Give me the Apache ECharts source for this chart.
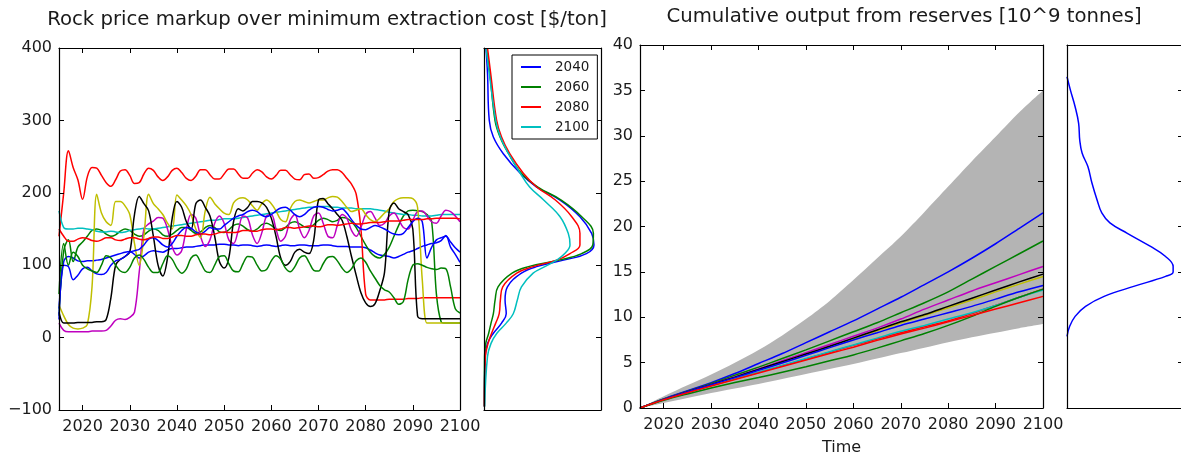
<!DOCTYPE html>
<html>
<head>
<meta charset="utf-8">
<script src="https://cdn.jsdelivr.net/npm/echarts@6/dist/echarts.min.js"></script>
<style>
  html, body { margin: 0; padding: 0; background: #ffffff; }
  #chart { width: 1181px; height: 457px; }
</style>
</head>
<body>
<div id="chart"></div>
<script>
// ---- Price markup over minimum extraction cost, one value per year, 2015-2100 ----
const years = [2015,2016,2017,2018,2019,2020,2021,2022,2023,2024,2025,2026,2027,2028,2029,2030,2031,2032,2033,2034,
  2035,2036,2037,2038,2039,2040,2041,2042,2043,2044,2045,2046,2047,2048,2049,2050,2051,2052,2053,2054,
  2055,2056,2057,2058,2059,2060,2061,2062,2063,2064,2065,2066,2067,2068,2069,2070,2071,2072,2073,2074,
  2075,2076,2077,2078,2079,2080,2081,2082,2083,2084,2085,2086,2087,2088,2089,2090,2091,2092,2093,2094,
  2095,2096,2097,2098,2099,2100];

const markupBlueA = [40,105,112,110,106,105,106,106,107,108, 110,112,114,116,118,119,115,110,113,118,
  120,119,118,121,123,123,124,125,125,126, 127,128,128,128,129,129,128,128,127,128,
  128,127,126,127,128,127,126,127,128,127, 127,128,128,127,127,127,128,128,127,126,
  126,126,125,125,125,124,121,117,114,113, 112,110,112,115,118,120,123,126,128,130,
  131,134,141,125,115,104];
const markupGreenA = [30,120,135,105,125,132,140,148,150,148, 143,140,142,147,150,148,143,140,142,147,
  150,148,142,140,143,148,152,152,148,144, 146,152,155,152,146,145,149,155,157,154,
  149,147,150,156,158,155,150,148,152,158, 160,157,153,152,156,162,165,163,160,162,
  166,165,160,152,140,128,118,112,110,115, 125,140,155,168,175,176,175,174,170,160,
  60,22,20,20,20,20];
const markupRedA = [140,200,258,235,218,191,222,235,234,224, 214,209,218,230,232,224,213,214,226,234,
  231,222,217,222,231,234,228,220,217,223, 232,232,225,219,219,226,233,233,226,220,
  220,227,232,229,222,219,224,231,231,225, 219,218,225,226,220,221,225,230,232,232,
  228,220,212,198,150,60,52,52,52,52, 53,53,53,53,54,54,54,55,55,55,
  55,55,55,55,55,55];
const markupCyan = [175,152,150,150,151,151,150,149,147,146, 146,147,146,145,146,148,149,150,151,150,
  150,151,152,153,154,155,156,157,158,159, 160,161,162,162,163,164,164,164,165,166,
  167,168,169,170,171,172,173,174,175,176, 177,178,179,180,180,181,181,181,180,180,
  179,179,179,178,178,178,178,177,176,175, 173,172,171,170,170,169,169,168,168,168,
  169,170,170,170,170,170];
const markupMagenta = [20,10,8,8,8,8,8,9,9,9, 10,16,24,26,25,28,35,90,150,157,
  161,166,165,150,125,114,120,150,170,165, 140,126,135,158,168,158,135,130,148,168,
  165,142,130,145,168,170,150,133,140,162, 170,150,138,148,168,172,158,140,138,155,
  170,165,148,140,152,170,174,165,155,158, 168,172,163,152,150,162,174,175,168,160,
  158,168,176,174,168,160];
const markupYellow = [45,30,18,13,12,13,18,70,198,172, 160,155,188,188,182,170,130,100,140,198,
  185,178,170,158,150,197,190,182,170,150, 138,175,194,185,178,172,170,186,192,193,
  190,182,176,185,190,185,175,163,160,178, 188,190,188,186,188,190,190,193,195,194,
  188,180,174,176,178,170,163,160,165,172, 178,188,192,193,193,192,180,80,20,20,
  20,20,20,20,20,20];
const markupBlack = [35,20,20,20,21,21,21,21,22,22, 25,55,100,108,112,118,170,195,185,175,
  140,100,85,110,165,188,180,160,150,185, 190,180,168,140,105,96,110,160,178,175,
  180,188,188,186,180,165,140,110,100,105, 118,122,118,116,135,190,192,185,178,170,
  162,140,112,86,62,48,43,47,65,90, 175,186,178,174,170,150,30,26,26,26,
  26,26,26,26,26,26];
const markupBlueB = [25,100,98,80,86,95,97,92,88,87, 90,100,106,108,112,118,120,122,128,136,
  138,134,128,125,130,140,148,152,151,146, 143,147,152,150,150,155,160,165,168,170,
  174,176,174,169,167,170,175,179,180,176, 170,167,170,176,180,181,180,177,175,176,
  178,172,163,155,150,149,152,155,153,150, 146,143,142,144,152,160,165,160,110,125,
  135,138,140,132,124,118];
const markupGreenB = [60,130,100,118,112,100,95,92,90,100, 113,110,100,92,90,97,110,114,108,97,
  90,90,102,113,108,96,89,95,110,114, 104,92,90,100,112,113,102,92,91,102,
  112,111,100,92,94,106,113,108,96,91, 98,110,113,104,93,92,102,111,112,106,
  96,90,95,106,110,104,92,82,72,66, 63,55,46,50,80,100,102,100,97,95,
  94,96,95,70,40,34];
const markupRedB = [150,140,133,133,136,138,137,134,133,135, 138,138,135,134,136,138,138,136,135,137,
  139,139,137,137,139,141,141,140,140,142, 143,143,142,143,145,146,145,145,146,148,
  148,147,147,149,150,150,149,150,152,152, 151,152,153,154,154,153,154,156,156,155,
  156,157,158,157,157,158,159,159,159,160, 161,161,161,162,163,163,163,163,164,164,
  165,165,165,165,165,164];

// ---- Markup density by year (price level vs. relative density) ----
const markupLevels = [400,365,300,277,254,227,208,190,167,144,128,116,107,98,89,70,52,33,20,6,-8,-26,-95];
const density2040 = [0.017,0.03,0.045,0.08,0.165,0.31,0.45,0.65,0.82,0.92,0.94,0.875,0.68,0.45,0.32,0.2,0.18,0.19,0.15,0.08,0.03,0.01,0.003];
const density2060 = [0.02,0.05,0.094,0.137,0.21,0.32,0.46,0.66,0.835,0.935,0.93,0.835,0.64,0.38,0.24,0.12,0.095,0.08,0.06,0.04,0.015,0.005,0.003];
const density2080 = [0.03,0.057,0.108,0.15,0.22,0.336,0.45,0.61,0.75,0.82,0.82,0.735,0.62,0.42,0.28,0.16,0.14,0.13,0.1,0.065,0.035,0.012,0.003];
const density2100 = [0.017,0.045,0.1,0.14,0.21,0.31,0.39,0.51,0.65,0.72,0.735,0.69,0.62,0.52,0.42,0.32,0.285,0.25,0.19,0.11,0.06,0.03,0.005];
const densityYears = ['2040', '2060', '2080', '2100'];

// ---- Cumulative output from reserves [10^9 t], every five years ----
const years5 = [2015,2020,2025,2030,2035,2040,2045,2050,2055,2060,2065,2070,2075,2080,2085,2090,2095,2100];
const cumBlueA   = [0,1.0,1.9,2.8,3.8,4.9,6.0,7.2,8.4,9.6,10.9,12.2,13.6,15.0,16.5,18.1,19.8,21.5];
const cumGreenA  = [0,1.0,1.85,2.7,3.6,4.5,5.45,6.4,7.4,8.4,9.4,10.5,11.6,12.8,14.2,15.6,17.0,18.4];
const cumRedA    = [0,0.92,1.72,2.47,3.2,3.92,4.65,5.4,6.15,6.9,7.6,8.3,8.95,9.6,10.4,11.3,12.2,13.1];
const cumCyan    = [0,0.92,1.72,2.48,3.22,3.95,4.7,5.45,6.2,6.95,7.7,8.45,9.1,9.8,10.5,11.3,12.2,13.0];
const cumMagenta = [0,0.95,1.8,2.6,3.45,4.3,5.2,6.1,7.0,7.9,8.8,9.8,10.9,11.9,12.9,13.8,14.7,15.6];
const cumYellow  = [0,0.95,1.78,2.58,3.38,4.2,5.05,5.9,6.75,7.6,8.5,9.35,10.2,11.05,11.9,12.8,13.65,14.5];
const cumBlack   = [0,0.95,1.8,2.6,3.4,4.25,5.1,5.95,6.8,7.7,8.6,9.5,10.3,11.2,12.1,13.0,13.9,14.75];
const cumBlueB   = [0,0.95,1.78,2.57,3.35,4.15,4.95,5.8,6.65,7.5,8.3,9.1,9.8,10.5,11.2,12.0,12.8,13.5];
const cumGreenB  = [0,0.85,1.55,2.2,2.8,3.35,3.95,4.55,5.2,5.85,6.6,7.4,8.2,9.1,10.1,11.2,12.2,13.1];
const cumRedB    = [0,0.9,1.68,2.42,3.14,3.86,4.58,5.3,6.0,6.7,7.45,8.15,8.8,9.5,10.2,10.9,11.6,12.3];
const rangeUpper = [0,1.3,2.5,3.7,5.0,6.4,8.0,9.8,11.8,14.1,16.5,18.9,21.6,24.4,27.2,29.9,32.6,35.0];
const rangeLower = [0,0.55,1.1,1.65,2.15,2.65,3.2,3.75,4.3,4.85,5.45,6.05,6.65,7.25,7.8,8.3,8.8,9.25];

// ---- Density of cumulative output in 2100 ----
const outputLevels = [36.5,35.0,33.2,31.4,29.5,28.1,26.6,24.8,22.9,21.5,20.4,19.25,17.8,16.7,15.6,15.0,14.5,13.4,12.3,11.2,10.1,9.0,7.9];
const outputDensity = [0,0.03,0.07,0.1,0.11,0.13,0.18,0.215,0.26,0.3,0.37,0.52,0.72,0.85,0.915,0.915,0.85,0.575,0.32,0.16,0.07,0.023,0];

// ---- styling ----
const FONT = 'DejaVu Sans';
const TEXT = '#1a1a1a';
const C = { b: '#0000ff', g: '#008000', r: '#ff0000', c: '#00bfbf', m: '#bf00bf', y: '#bfbf00', k: '#000000' };
const BAND = '#b4b4b4';

const zip = (xs, ys) => xs.map((x, i) => [x, ys[i]]);

const runColors = [C.b, C.g, C.r, C.c, C.m, C.y, C.k, C.b, C.g, C.r];
const markupRuns = [markupBlueA, markupGreenA, markupRedA, markupCyan, markupMagenta,
  markupYellow, markupBlack, markupBlueB, markupGreenB, markupRedB];
const cumRuns = [cumBlueA, cumGreenA, cumRedA, cumCyan, cumMagenta,
  cumYellow, cumBlack, cumBlueB, cumGreenB, cumRedB];

const tickStyle = { show: true, inside: true, length: 5, lineStyle: { color: '#000', width: 1 } };
const lineAxis = { show: true, onZero: false, lineStyle: { color: '#000', width: 1.2 } };
const labelStyle = { fontFamily: FONT, fontSize: 16, color: TEXT };
const minus = v => String(v).replace('-', '\u2212');

// axes sit above the series so the frame and ticks stay visible over the shaded range
function yearAxis(gridIndex, position, withLabels, extra) {
  return Object.assign({
    type: 'value', gridIndex, position, min: 2015, max: 2100, z: 5,
    splitNumber: 9, minInterval: 10, maxInterval: 10,
    axisLine: lineAxis, axisTick: tickStyle, splitLine: { show: false },
    axisLabel: withLabels ? Object.assign({
      margin: 9, showMinLabel: false,
      formatter: v => (v % 10 === 0 ? String(v) : '')
    }, labelStyle) : { show: false }
  }, extra || {});
}
function valueAxis(gridIndex, position, min, max, interval, withLabels, withTicks) {
  return {
    type: 'value', gridIndex, position, min, max, interval, z: 5,
    axisLine: lineAxis, axisTick: withTicks ? tickStyle : { show: false },
    splitLine: { show: false },
    axisLabel: withLabels ? Object.assign({ margin: 7, formatter: minus }, labelStyle) : { show: false }
  };
}
function densityAxis(gridIndex, position) {
  return {
    type: 'value', gridIndex, position, min: 0, max: 1, z: 5,
    axisLine: lineAxis, axisTick: { show: false }, axisLabel: { show: false }, splitLine: { show: false }
  };
}

const series = [];
markupRuns.forEach((vals, i) => {
  series.push({
    name: 'markup run ' + (i + 1), type: 'line', xAxisIndex: 0, yAxisIndex: 0,
    data: zip(years, vals), symbol: 'none', smooth: 0.35,
    lineStyle: { color: runColors[i], width: 1.5 }, itemStyle: { color: runColors[i] }
  });
});
[density2040, density2060, density2080, density2100].forEach((d, i) => {
  const col = [C.b, C.g, C.r, C.c][i];
  series.push({
    name: densityYears[i], type: 'line', xAxisIndex: 2, yAxisIndex: 2,
    data: zip(d, markupLevels), symbol: 'none', smooth: 0.4,
    lineStyle: { color: col, width: 1.5 }, itemStyle: { color: col }
  });
});
// shaded range: grey up to the upper bound, then white back down to the lower bound
series.push({
  name: 'range upper', type: 'line', xAxisIndex: 4, yAxisIndex: 4, z: 1,
  data: zip(years5, rangeUpper), symbol: 'none', smooth: 0.3, silent: true,
  lineStyle: { width: 0, opacity: 0 }, areaStyle: { color: BAND, opacity: 1 }
});
series.push({
  name: 'range lower', type: 'line', xAxisIndex: 4, yAxisIndex: 4, z: 1,
  data: zip(years5, rangeLower), symbol: 'none', smooth: 0.3, silent: true,
  lineStyle: { width: 0, opacity: 0 }, areaStyle: { color: '#ffffff', opacity: 1 }
});
cumRuns.forEach((vals, i) => {
  series.push({
    name: 'output run ' + (i + 1), type: 'line', xAxisIndex: 4, yAxisIndex: 4,
    data: zip(years5, vals), symbol: 'none', smooth: 0.3,
    lineStyle: { color: runColors[i], width: 1.5 }, itemStyle: { color: runColors[i] }
  });
});
series.push({
  name: 'output density', type: 'line', xAxisIndex: 6, yAxisIndex: 6,
  data: zip(outputDensity, outputLevels), symbol: 'none', smooth: 0.4,
  lineStyle: { color: C.b, width: 1.5 }, itemStyle: { color: C.b }
});

// fixed panel rectangles; labels are allowed to sit outside them
const panel = (left, top, width, height) => ({ left, top, width, height, outerBoundsMode: 'none', containLabel: false });

const option = {
  animation: false,
  backgroundColor: '#ffffff',
  textStyle: { fontFamily: FONT },
  grid: [
    panel(59, 48, 401, 362),
    panel(484, 48, 117, 362),
    panel(640, 45, 403, 363),
    panel(1067, 45, 116, 363)
  ],
  xAxis: [
    yearAxis(0, 'bottom', true),
    yearAxis(0, 'top', false),
    densityAxis(1, 'bottom'),
    densityAxis(1, 'top'),
    yearAxis(2, 'bottom', true, {
      name: 'Time', nameLocation: 'middle', nameGap: 32,
      nameTextStyle: { fontFamily: FONT, fontSize: 16, color: TEXT }
    }),
    yearAxis(2, 'top', false),
    densityAxis(3, 'bottom'),
    densityAxis(3, 'top')
  ],
  yAxis: [
    valueAxis(0, 'left', -100, 400, 100, true, true),
    valueAxis(0, 'right', -100, 400, 100, false, true),
    valueAxis(1, 'left', -100, 400, 100, false, false),
    valueAxis(1, 'right', -100, 400, 100, false, true),
    valueAxis(2, 'left', 0, 40, 5, true, true),
    valueAxis(2, 'right', 0, 40, 5, false, true),
    valueAxis(3, 'left', 0, 40, 5, false, false),
    valueAxis(3, 'right', 0, 40, 5, false, true)
  ],
  legend: {
    data: densityYears, orient: 'vertical', left: 512, top: 55, z: 6,
    icon: 'rect', itemWidth: 20, itemHeight: 2, itemGap: 6,
    padding: [5, 8, 5, 9], borderColor: '#000', borderWidth: 1, borderRadius: 0,
    backgroundColor: '#ffffff',
    textStyle: { fontFamily: FONT, fontSize: 13.5, color: TEXT, lineHeight: 14, padding: [0, 0, 0, 9] }
  },
  graphic: [
    { type: 'text', x: 327, y: 20, style: {
      text: 'Rock price markup over minimum extraction cost [$/ton]',
      font: '19.7px "DejaVu Sans"', fill: TEXT, textAlign: 'center', textVerticalAlign: 'middle' } },
    { type: 'text', x: 904, y: 17, style: {
      text: 'Cumulative output from reserves [10^9 tonnes]',
      font: '19.7px "DejaVu Sans"', fill: TEXT, textAlign: 'center', textVerticalAlign: 'middle' } }
  ],
  series
};

echarts.init(document.getElementById('chart'), null, { renderer: 'canvas' }).setOption(option);
</script>
</body>
</html>
